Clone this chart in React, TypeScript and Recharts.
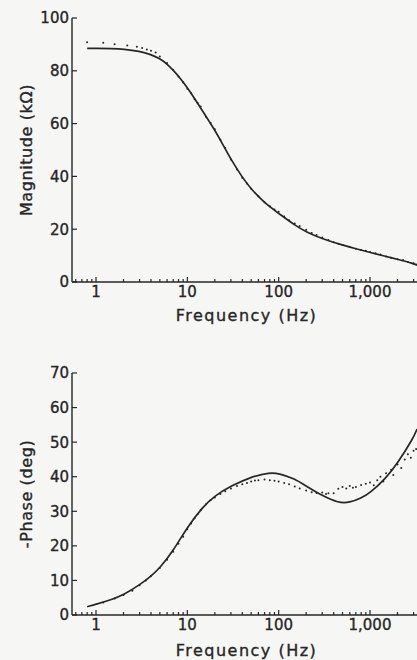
import React from "react";
import { ComposedChart, Line, Scatter, XAxis, YAxis } from "recharts";

// ---- data ----
const xTicks = [0.6, 0.7, 0.8, 0.9, 1, 2, 3, 4, 5, 6, 7, 8, 9, 10, 20, 30, 40, 50, 60, 70, 80, 90, 100, 200, 300, 400, 500, 600, 700, 800, 900, 1000, 2000, 3000];
const xMajor = [1, 10, 100, 1000];
const xMajorLabels = ["1", "10", "100", "1,000"];
const magTicks = [0, 20, 40, 60, 80, 100];
const phaseTicks = [0, 10, 20, 30, 40, 50, 60, 70];

const magModelFreq = [0.8, 1, 1.5, 2, 3, 4, 5, 6, 7, 8, 10, 12, 15, 20, 25, 30, 40, 50, 70, 100, 150, 200, 300, 500, 700, 1000, 1500, 2000, 3000, 3270];
const magModelVal = [88.5, 88.5, 88.4, 88.2, 87.4, 86.2, 84.6, 82.6, 80.2, 78, 73.6, 69.5, 64.2, 57.6, 51.5, 46.5, 39.6, 35.2, 29.9, 26, 21.5, 19, 16.3, 14, 12.6, 11.2, 9.7, 8.6, 7, 6.4];

const magDataFreq = [0.8, 1.2, 1.6, 2.2, 2.8, 3.2, 3.6, 4, 4.5, 5, 6, 7, 8, 9, 10, 11, 12, 13, 14, 16, 18, 20, 23, 26, 30, 35, 40, 45, 50, 60, 70, 80, 90, 100, 115, 130, 150, 170, 200, 230, 260, 300, 350, 400, 450, 500, 600, 700, 800, 900, 1000, 1150, 1300, 1500, 1700, 2000, 2300, 2600, 3000, 3200];
const magDataVal = [90.8, 90.6, 90.1, 89.6, 89.1, 88.6, 88.1, 87.6, 86.9, 85.4, 83, 80.3, 77.8, 75.6, 73.2, 71.5, 69.2, 67.8, 66.5, 62.6, 60.2, 57.9, 53.9, 50.8, 46.4, 42.6, 39.5, 37.3, 35.3, 32.5, 30.2, 28.7, 27.5, 26.6, 24.8, 23.4, 22.2, 21.2, 19.8, 18.6, 17.8, 16.9, 15.9, 15.1, 14.5, 14, 13.3, 12.6, 12.1, 11.8, 11.4, 10.9, 10.4, 9.7, 9.2, 8.6, 8.3, 7.6, 7.1, 6.6];

const phModelFreq = [0.8, 1, 1.5, 2, 3, 4, 5, 7, 10, 15, 20, 30, 50, 80, 100, 150, 200, 300, 450, 600, 800, 1000, 1500, 2000, 3000, 3270];
const phModelVal = [2.4, 3.1, 4.5, 5.8, 8.7, 11.2, 13.6, 18.5, 25.5, 31.5, 34.5, 37.3, 40, 41.2, 41, 39.4, 37.3, 34.5, 32.4, 32.5, 33.8, 35.3, 39.6, 43.9, 51.3, 53.8];

const phDataFreq = [1.2, 1.6, 2, 2.5, 3, 3.5, 4, 5, 6, 7, 8, 9, 10, 11, 12, 13, 14, 16, 18, 20, 23, 26, 30, 35, 40, 45, 50, 55, 60, 70, 80, 90, 100, 115, 130, 150, 170, 200, 230, 260, 300, 330, 350, 400, 450, 500, 550, 600, 650, 700, 800, 900, 1000, 1100, 1200, 1300, 1400, 1500, 1700, 1800, 2000, 2200, 2400, 2600, 2800, 3000, 3200];
const phDataVal = [3.6, 4.8, 5.8, 7, 8.6, 10, 11.3, 13.6, 16, 18.3, 20.6, 22.6, 24.8, 26.5, 28, 29.2, 30.4, 32, 33.2, 34, 35, 35.8, 36.6, 37.3, 37.8, 38.2, 38.6, 38.9, 39, 39.2, 39, 38.8, 38.6, 38.2, 37.8, 37.2, 36.6, 36, 35.5, 35.3, 35.4, 35, 35.2, 35.2, 36.5, 37, 36.6, 37.3, 36.8, 37, 37.6, 38, 38.3, 37.5, 39, 40, 38.6, 41, 42, 40.5, 43.5, 42.5, 45, 46.5, 45.5, 47.5, 48];

// ---- build ----
const zip = (f: number[], v: number[]) => f.map((x, i) => ({ f: x, v: v[i] }));
const magModel = zip(magModelFreq, magModelVal);
const magData = zip(magDataFreq, magDataVal);
const phModel = zip(phModelFreq, phModelVal);
const phData = zip(phDataFreq, phDataVal);

const FONT = "DejaVu Sans";
const INK = "#262626";
const DOMAIN: [number, number] = [0.546, 3270];

const BottomTick = (props: any) => {
  const { x, y, payload } = props;
  const idx = xMajor.indexOf(payload.value);
  const major = idx >= 0;
  return (
    <g>
      <line x1={x} x2={x} y1={y} y2={y - (major ? 5 : 3)} stroke={INK} strokeWidth={1.2} />
      {major && (
        <text x={x} y={y + 4} dy="0.71em" textAnchor="middle" fontFamily={FONT} fontSize={15} fill={INK} stroke={INK} strokeWidth={0.35}>
          {xMajorLabels[idx]}
        </text>
      )}
    </g>
  );
};

const TopTick = (props: any) => {
  const { x, y, payload } = props;
  const major = xMajor.indexOf(payload.value) >= 0;
  return <line x1={x} x2={x} y1={y} y2={y + (major ? 5 : 3)} stroke={INK} strokeWidth={1.2} />;
};

const LeftTick = (props: any) => {
  const { x, y, payload } = props;
  return (
    <g>
      <line x1={x} x2={x + 5} y1={y} y2={y} stroke={INK} strokeWidth={1.2} />
      <text x={x - 3} y={y} dy="0.36em" textAnchor="end" fontFamily={FONT} fontSize={15} fill={INK} stroke={INK} strokeWidth={0.35}>
        {payload.value}
      </text>
    </g>
  );
};

const Dot = (props: any) => {
  const { cx, cy } = props;
  if (cx == null || cy == null) return null;
  return <circle cx={cx} cy={cy} r={1} fill={INK} />;
};

const yLabel = (text: string) => (p: any) => {
  const vb = p.viewBox;
  const cy = vb.y + vb.height / 2;
  return (
    <text x={32} y={cy} transform={`rotate(-90 32 ${cy})`} textAnchor="middle" fontFamily={FONT} fontSize={16} fill={INK} stroke={INK} strokeWidth={0.35} letterSpacing={0.6}>
      {text}
    </text>
  );
};

const xLabel = (offset: number) => (p: any) => {
  const vb = p.viewBox;
  return (
    <text x={vb.x + vb.width / 2 + 2} y={vb.y + offset} textAnchor="middle" fontFamily={FONT} fontSize={16} fill={INK} stroke={INK} strokeWidth={0.35} letterSpacing={1.5}>
      Frequency (Hz)
    </text>
  );
};

type PanelProps = {
  model: { f: number; v: number }[];
  data: { f: number; v: number }[];
  yMax: number;
  yTicks: number[];
  yTitle: string;
  top: number;
  xAxisH: number;
  labelOffset: number;
};

const Panel = ({ model, data, yMax, yTicks, yTitle, top, xAxisH, labelOffset }: PanelProps) => (
  <ComposedChart width={417} height={330} margin={{ top, right: 0, bottom: 0, left: 0 }}>
    <XAxis
      dataKey="f"
      type="number"
      scale="log"
      domain={DOMAIN}
      allowDataOverflow
      ticks={xTicks}
      interval={0}
      tickSize={0}
      tickMargin={0}
      height={xAxisH}
      axisLine={{ stroke: INK, strokeWidth: 1.4 }}
      tickLine={false}
      tick={<BottomTick />}
      label={{ content: xLabel(labelOffset) }}
    />
    <XAxis
      xAxisId="top"
      orientation="top"
      dataKey="f"
      type="number"
      scale="log"
      domain={DOMAIN}
      allowDataOverflow
      ticks={xTicks}
      interval={0}
      tickSize={0}
      tickMargin={0}
      height={0}
      axisLine={{ stroke: INK, strokeWidth: 1.4 }}
      tickLine={false}
      tick={<TopTick />}
    />
    <YAxis
      dataKey="v"
      type="number"
      domain={[0, yMax]}
      ticks={yTicks}
      interval={0}
      width={72}
      tickSize={0}
      tickMargin={0}
      axisLine={{ stroke: INK, strokeWidth: 1.4 }}
      tickLine={false}
      tick={<LeftTick />}
      label={{ content: yLabel(yTitle) }}
    />
    <Scatter data={data} dataKey="v" shape={<Dot />} isAnimationActive={false} />
    <Line data={model} dataKey="v" type="basis" stroke={INK} strokeWidth={1.7} dot={false} isAnimationActive={false} />
  </ComposedChart>
);

export default function App() {
  return (
    <div style={{ position: "absolute", left: 0, top: 0, width: 417, height: 660, background: "#f6f6f4", overflow: "hidden" }}>
      <Panel model={magModel} data={magData} yMax={100} yTicks={magTicks} yTitle="Magnitude (kΩ)" top={18} xAxisH={48} labelOffset={39} />
      <Panel model={phModel} data={phData} yMax={70} yTicks={phaseTicks} yTitle="-Phase (deg)" top={43} xAxisH={45} labelOffset={41} />
    </div>
  );
}
